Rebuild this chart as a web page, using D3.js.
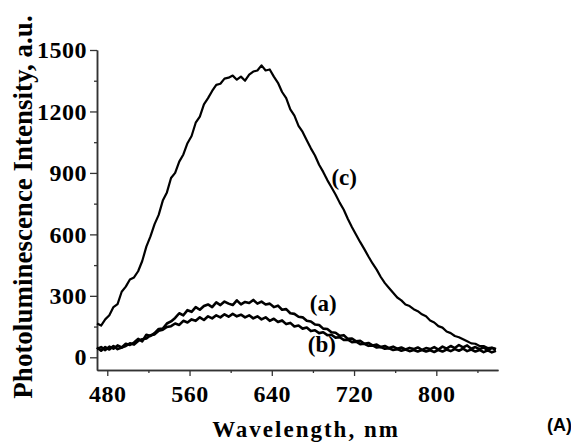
<!DOCTYPE html>
<html>
<head>
<meta charset="utf-8">
<script src="https://cdn.jsdelivr.net/npm/d3@7"></script>
<style>
  body { margin: 0; background: #fff; }
  svg text { font-family: "Liberation Serif", "Times New Roman", serif; font-weight: bold; fill: #000; }
</style>
</head>
<body>
<div id="chart"></div>
<script>
// wavelength grid, nm
const wavelengths = [470, 474, 478, 482, 486, 490, 494, 498, 502, 506, 510, 514, 518, 522, 526, 530,
  534, 538, 542, 546, 550, 554, 558, 562, 566, 570, 574, 578, 582, 586, 590, 594, 598, 602, 606, 610,
  614, 618, 622, 626, 630, 634, 638, 642, 646, 650, 654, 658, 662, 666, 670, 674, 678, 682, 686, 690,
  694, 698, 702, 706, 710, 714, 718, 722, 726, 730, 734, 738, 742, 746, 750, 754, 758, 762, 766, 770,
  774, 778, 782, 786, 790, 794, 798, 802, 806, 810, 814, 818, 822, 826, 830, 834, 838, 842, 846, 850,
  854, 858];

const seriesA = [48, 32, 50, 38, 55, 40, 48, 66, 60, 72, 90, 78, 110, 104, 118, 138,
  140, 165, 175, 192, 215, 205, 230, 222, 245, 232, 250, 258, 245, 268, 255, 272, 262, 255, 278, 258,
  270, 265, 280, 262, 272, 258, 262, 245, 252, 232, 235, 215, 212, 198, 195, 178, 175, 160, 158, 140,
  138, 122, 120, 105, 108, 90, 92, 78, 80, 66, 70, 58, 62, 50, 55, 45, 52, 42, 48, 38,
  46, 40, 48, 36, 45, 40, 50, 38, 52, 42, 55, 45, 60, 48, 58, 42, 50, 40, 48, 35,
  45, 38];

const seriesB = [40, 50, 35, 52, 42, 58, 48, 55, 68, 62, 80, 88, 92, 108, 112, 130,
  135, 148, 152, 165, 158, 178, 170, 185, 178, 195, 182, 200, 190, 205, 195, 210, 198, 212, 200, 208,
  195, 205, 190, 200, 185, 195, 178, 188, 172, 180, 162, 168, 150, 155, 140, 145, 128, 132, 118, 122,
  108, 110, 96, 98, 85, 86, 74, 76, 64, 66, 56, 58, 48, 50, 42, 44, 36, 40, 32, 38,
  30, 36, 28, 35, 28, 34, 26, 36, 28, 38, 30, 40, 32, 42, 30, 38, 28, 36, 25, 34,
  24, 32];

const seriesC = [165, 155, 185, 205, 245, 260, 320, 345, 380, 390, 420, 470, 540, 590, 650, 695,
  765, 805, 875, 900, 955, 990, 1045, 1080, 1145, 1175, 1235, 1265, 1300, 1330, 1335, 1360, 1365, 1375, 1355, 1370,
  1350, 1380, 1395, 1400, 1425, 1400, 1405, 1370, 1340, 1295, 1265, 1210, 1180, 1130, 1100, 1060, 1020, 985, 940, 905,
  865, 830, 795, 755, 720, 675, 635, 598, 562, 528, 492, 458, 428, 392, 362, 338, 315, 292, 278, 258,
  250, 235, 225, 210, 200, 180, 170, 152, 145, 126, 118, 104, 98, 88, 78, 68, 66, 55, 55, 45,
  48, 42];

const xMajor = [480, 560, 640, 720, 800];
const xMinor = [520, 600, 680, 760, 840];
const yMajor = [0, 300, 600, 900, 1200, 1500];
const yMinor = [150, 450, 750, 1050, 1350];

const curveLabels = [
  { text: "(a)", wl: 677, val: 225 },
  { text: "(b)", wl: 675, val: 25 },
  { text: "(c)", wl: 698, val: 840 }
];

const width = 571, height = 443;

const svg = d3.select("#chart").append("svg")
  .attr("width", width)
  .attr("height", height);

const x = d3.scaleLinear().domain([470, 860]).range([97, 498]);
const y = d3.scaleLinear().domain([-62, 1500]).range([370, 50]);

// axes
const gx = svg.append("g").attr("transform", "translate(0,370)");
gx.call(d3.axisBottom(x).tickValues(xMajor).tickSize(6).tickSizeOuter(0).tickPadding(9).tickFormat(d3.format("d")));
gx.append("g").call(d3.axisBottom(x).tickValues(xMinor).tickSize(3).tickSizeOuter(0).tickFormat(""));

const gy = svg.append("g").attr("transform", "translate(97,0)");
gy.call(d3.axisLeft(y).tickValues(yMajor).tickSize(7).tickSizeOuter(0).tickPadding(3).tickFormat(d3.format("d")));
gy.append("g").call(d3.axisLeft(y).tickValues(yMinor).tickSize(3).tickSizeOuter(0).tickFormat(""));

svg.selectAll(".domain").attr("stroke", "#333").attr("stroke-width", 1.5);
svg.selectAll(".tick line").attr("stroke", "#333").attr("stroke-width", 1.3);
svg.selectAll(".tick text")
  .style("font-family", '"Liberation Serif", serif')
  .style("font-weight", "bold")
  .style("font-size", "24px")
  .style("letter-spacing", "0.5px")
  .attr("fill", "#000");

// curves
const line = d3.line()
  .x((d, i) => x(wavelengths[i]))
  .y(d => y(d));

[[seriesA, 2.6], [seriesB, 2.6], [seriesC, 2.2]].forEach(([s, w]) => {
  svg.append("path")
    .datum(s)
    .attr("d", line)
    .attr("fill", "none")
    .attr("stroke", "#000")
    .attr("stroke-width", w)
    .attr("stroke-linejoin", "round");
});

// curve labels
svg.selectAll(".clabel")
  .data(curveLabels)
  .enter()
  .append("text")
  .attr("class", "clabel")
  .attr("x", d => x(d.wl))
  .attr("y", d => y(d.val))
  .style("font-size", "23px")
  .text(d => d.text);

// axis titles
svg.append("text")
  .attr("x", 306)
  .attr("y", 437)
  .attr("text-anchor", "middle")
  .style("font-size", "23px")
  .style("letter-spacing", "2px")
  .text("Wavelength, nm");

svg.append("text")
  .attr("transform", "translate(32,207) rotate(-90)")
  .attr("text-anchor", "middle")
  .style("font-size", "27px")
  .text("Photoluminescence Intensity, a.u.");

svg.append("text")
  .attr("x", 547)
  .attr("y", 431)
  .style("font-family", '"Liberation Sans", Arial, sans-serif')
  .style("font-size", "18px")
  .text("(A)");
</script>
</body>
</html>
